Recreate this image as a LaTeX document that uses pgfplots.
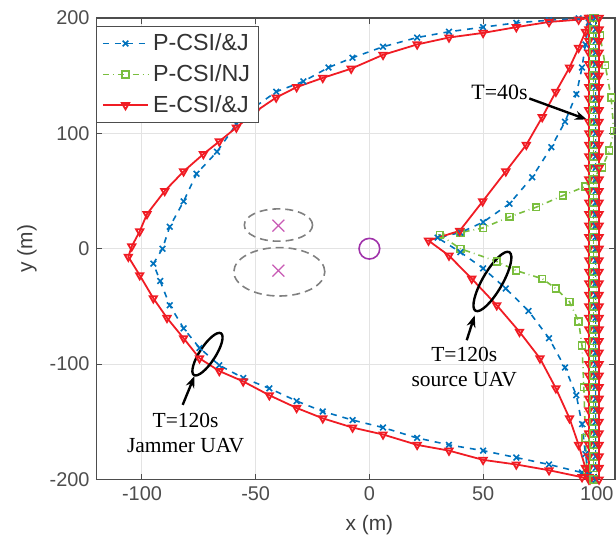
\documentclass[border=0pt]{standalone}
\usepackage{fontspec}
\setmainfont{Liberation Serif}
\setsansfont{Liberation Sans}
\usepackage{pgfplots}
\usepackage{pgfplotstable}
\pgfplotsset{compat=1.18}
\usetikzlibrary{arrows.meta,shapes.geometric}

\definecolor{mblue}{RGB}{0,114,189}
\definecolor{mgreen}{RGB}{122,190,62}
\definecolor{mred}{RGB}{240,28,36}
\definecolor{evex}{RGB}{200,90,180}
\definecolor{dsto}{RGB}{160,50,170}
\definecolor{axgray}{RGB}{77,77,77}

\pgfplotsset{
  pblue/.style={mblue, dashed, line width=0.8pt, mark=x, mark size=2pt, mark options={solid}},
  pgreen/.style={mgreen, dash dot, line width=0.8pt, mark=square, mark size=1.7pt, mark options={solid}},
  pred/.style={mred, solid, line width=0.9pt, mark=triangle, mark size=2.1pt, mark options={solid, rotate=180}},
}

% straight (hovering) trajectories along x = 100
\pgfplotstableread{
y    xa   xb   xc   xd
-200 96.5 98.5 99.5 101
-190 96.5 98.5 99.5 101
-180 96.5 98.5 99.5 101
-170 96.5 98.5 99.5 101
-160 96.5 98.5 99.5 101
-150 96.5 98.5 99.5 101
-140 96.5 98.5 99.5 101
-130 96.5 98.5 99.5 101
-120 96.5 98.5 99.5 101
-110 96.5 98.5 99.5 101
-100 96.5 98.5 99.5 101
-90  96.5 98.5 99.5 101
-80  96.5 98.5 99.5 101
-70  96.5 98.5 99.5 101
-60  96.5 98.5 99.5 101
-50  96.5 98.5 99.5 101
-40  96.5 98.5 99.5 101
-30  96.5 98.5 99.5 101
-20  96.5 98.5 99.5 101
-10  96.5 98.5 99.5 101
0    96.5 98.5 99.5 101
10   96.5 98.5 99.5 101
20   96.5 98.5 99.5 101
30   96.5 98.5 99.5 101
40   96.5 98.5 99.5 101
50   96.5 98.5 99.5 101
60   96.5 98.5 99.5 101
70   96.5 98.5 99.5 101
80   96.5 98.5 99.5 101
90   96.5 98.5 99.5 101
100  96.5 98.5 99.5 101
110  96.5 98.5 99.5 101
120  96.5 98.5 99.5 101
130  96.5 98.5 99.5 101
140  96.5 98.5 99.5 101
150  96.5 98.5 99.5 101
160  96.5 98.5 99.5 101
170  96.5 98.5 99.5 101
180  96.5 98.5 99.5 101
190  96.5 98.5 99.5 101
200  96.5 98.5 99.5 101
}\hover

\begin{document}
\begin{tikzpicture}
\begin{axis}[
    scale only axis,
    width=260.6pt, height=232pt,
    xmin=-120, xmax=108,
    ymin=-200, ymax=200,
    xtick={-100,-50,0,50,100},
    ytick={-200,-100,0,100,200},
    tick align=inside,
    major tick length=3pt,
    tick style={axgray, line width=0.5pt},
    axis line style={axgray, line width=0.6pt},
    grid=major,
    major grid style={gray!22, line width=0.5pt},
    /pgf/number format/assume math mode=true,
    ticklabel style={font=\sffamily\fontsize{10}{12}\selectfont, text=axgray},
    xlabel={x (m)},
    ylabel={y (m)},
    label style={font=\sffamily\fontsize{10.5}{12}\selectfont, text=axgray!80!black},
    xlabel style={at={(axis description cs:0.5263,-0.099)}, anchor=center},
    ylabel style={at={(axis description cs:-0.134,0.5)}, anchor=center},
    legend style={at={(0,0.982)}, anchor=north west, draw=axgray, line width=0.5pt,
      font=\sffamily\fontsize{11.7}{13.5}\selectfont, text=black!80,
      inner xsep=2.5pt, inner ysep=1.5pt, row sep=1.5pt},
    legend cell align=left,
    legend image code/.code={\draw[mark repeat=2, mark phase=2, #1]
      plot coordinates {(0cm,0cm) (0.4cm,0cm) (0.8cm,0cm)};},
]

% jammer UAV, P-CSI/&J
\addplot[pblue] coordinates {
(97,-200) (93.5,-194) (79,-187) (64.6,-181) (50,-175) (35,-170) (21,-164) (6,-155)
(-7.4,-148.5) (-20.5,-141) (-32,-132) (-44,-121) (-55.5,-112) (-66,-101) (-74.7,-86)
(-81.7,-69) (-87.8,-49) (-92,-28) (-95,-13) (-91,0) (-87.8,19) (-81.7,41) (-76,65)
(-67,84) (-58.5,108) (-51,122) (-41,136) (-29,145) (-18,157) (-7.4,165.5) (6,175)
(21,183) (35,188) (50,192) (64.6,195.7) (79,198) (92,199.5) (97,200)
};
\addlegendentry{P-CSI/\&J}

% source UAV, P-CSI/NJ
\addplot[pgreen] coordinates {
(98,-200) (95.6,-192) (95,-164) (94.3,-120) (93.5,-84) (92,-63) (88,-46) (82,-34.5)
(76,-26) (64.6,-19) (56,-11) (40,0) (31,12) (40,14) (50,18) (61.6,27.6) (73.4,36)
(85,46) (95,54) (98,60) (102.4,70.5) (105.5,85) (107.5,102) (106.3,131) (103.7,159)
(101.4,185) (99,200)
};
\addlegendentry{P-CSI/NJ}

% jammer UAV, E-CSI/&J
\addplot[pred] coordinates {
(97,-200) (93.5,-198) (79,-192) (64.6,-187) (50,-183) (35,-175) (21,-170) (6,-161)
(-7.4,-155) (-20.5,-147) (-32,-138) (-44,-127) (-55.5,-115) (-66,-106) (-74.7,-95)
(-81.7,-77.6) (-89,-60) (-95,-43) (-101,-23) (-106,-7) (-104.5,2) (-101,15) (-97.8,30)
(-90,50) (-81.7,67) (-73,82) (-66,93) (-58.5,105) (-50,119) (-41,131) (-32,140)
(-20.5,148) (-8,156) (6,168) (21,177) (35,183) (50,187) (64.6,192) (79,196.5)
(92,198.5) (97,200)
};
\addlegendentry{E-CSI/\&J}

% source UAV, P-CSI/&J
\addplot[pblue, forget plot] coordinates {
(96.5,-196) (95,-178) (93.5,-152) (91,-127) (86,-103) (79,-77.6) (70,-54) (60,-34.5)
(50,-17) (40,-3) (30,9.5) (40,14) (50,23) (61.6,39) (71.6,62) (80,88) (86,110)
(91,134) (93.5,157) (95,177) (96.5,196) (97,200)
};

% source UAV, E-CSI/&J
\addplot[pred, forget plot] coordinates {
(96.5,-198) (95,-190) (92,-170) (88,-147) (82,-121) (75,-95) (66,-72) (56,-49)
(45,-26) (35,-6) (26,7) (39.7,15.5) (49.8,41) (60,67) (69,90) (76,114) (82,136)
(88,157) (92,174) (95,188) (96.5,200)
};

% T = 40 s: straight flights
\addplot[pred, forget plot] table[x=xa, y=y] {\hover};
\addplot[pgreen, forget plot] table[x=xb, y=y] {\hover};
\addplot[pblue, forget plot] table[x=xc, y=y] {\hover};
\addplot[pred, forget plot] table[x=xd, y=y] {\hover};

% eavesdroppers and destination
\draw[gray, line width=0.8pt, dash pattern=on 4pt off 2.5pt] (axis cs:-40,20.5) ellipse [x radius=15, y radius=14];
\draw[gray, line width=0.8pt, dash pattern=on 4pt off 2.5pt] (axis cs:-39.6,-20) ellipse [x radius=20, y radius=21];
\addplot[only marks, mark=x, mark size=4.2pt, evex, line width=0.6pt, forget plot] coordinates {(-40,20) (-40,-19)};
\addplot[only marks, mark=o, mark size=5.2pt, dsto, line width=0.8pt, forget plot] coordinates {(0,0)};

% annotations
\node[font=\fontsize{11}{13}\selectfont] at (axis cs:57.2,135.3) {T=40s};
\draw[line width=1.2pt, -{Stealth[length=6pt, width=4.5pt]}] (axis cs:70.3,130.2) -- (axis cs:95.6,112);

\node[draw, ellipse, line width=1.2pt, minimum width=34pt, minimum height=10pt, inner sep=0pt, rotate=60] at (axis cs:54.1,-28.4) {};
\draw[line width=1.2pt, -{Stealth[length=6pt, width=4.5pt]}] (axis cs:42.8,-79.3) -- (axis cs:46.3,-57.8);
\node[font=\fontsize{10.8}{12.5}\selectfont, align=center] at (axis cs:41.7,-102.6) {T=120s\\source UAV};

\node[draw, ellipse, line width=1.2pt, minimum width=25pt, minimum height=8pt, inner sep=0pt, rotate=57] at (axis cs:-71.2,-91.4) {};
\draw[line width=1.2pt, -{Stealth[length=6pt, width=4.5pt]}] (axis cs:-82.1,-135.3) -- (axis cs:-76.9,-110.3);
\node[font=\fontsize{10.8}{12.5}\selectfont, align=center] at (axis cs:-80.8,-160) {T=120s\\Jammer UAV};

\end{axis}
\pgfresetboundingbox
\useasboundingbox ([shift={(-48.5pt,-34.5pt)}]current axis.south west)
  rectangle ([shift={(0.5pt,9pt)}]current axis.north east);
\end{tikzpicture}
\end{document}
